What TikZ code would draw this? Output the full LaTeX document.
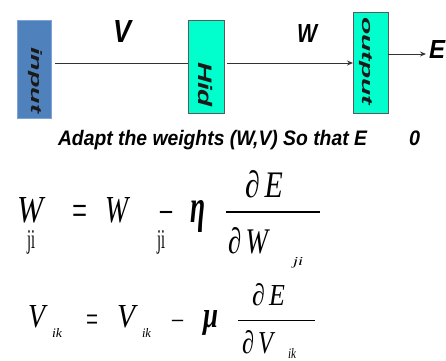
\documentclass[tikz,border=0pt]{standalone}
\usepackage{fontspec}
\usepackage{graphicx}
\usetikzlibrary{arrows.meta}
\setmainfont{Liberation Serif}
\newfontfamily\lsans{Liberation Sans}
\newcommand\gl[3]{\resizebox{#1}{#2}{#3}}
\newcommand\fsz[1]{\fontsize{#1}{#1}\selectfont}
\definecolor{inblue}{HTML}{4F81BD}
\definecolor{inedge}{HTML}{7FA3D6}
\definecolor{aqua}{HTML}{00FFCC}
\definecolor{boxedge}{HTML}{5A5A5A}
\definecolor{ink}{HTML}{1A1A1A}
\begin{document}
\begin{tikzpicture}[x=1pt,y=-1pt,
  txt/.style={inner sep=0pt,outer sep=0pt,anchor=base west,text=black},
  sansbi/.style={txt,font=\lsans\bfseries\itshape},
  eqit/.style={txt,font=\itshape},
  eqrm/.style={txt,font=\normalfont},
  layerbox/.style={inner sep=0pt,outer sep=0pt,line width=0.8pt},
  vlabel/.style={sansbi,rotate=-90,text=ink},
  conn/.style={draw=black!80,line width=1pt},
  tip/.style={-{Stealth[length=6pt,width=5pt]}},
  fracline/.style={line width=#1,black}
]
\useasboundingbox (0,0) rectangle (446,360);
\fill[white] (0,0) rectangle (446,360);

% boxes
\node[layerbox,draw=inedge,fill=inblue,minimum width=34pt,minimum height=98pt] (input) at (34,69) {};
\node[layerbox,draw=boxedge,fill=aqua,minimum width=36pt,minimum height=93pt] (hid) at (206,66.5) {};
\node[layerbox,draw=boxedge,fill=aqua,minimum width=35pt,minimum height=101pt] (output) at (370.5,62.5) {};

% box labels
\node[vlabel] (inputlbl) at (31,47) {\gl{66pt}{\height}{\fsz{15}input}};
\node[vlabel] (hidlbl) at (198,62) {\gl{45pt}{\height}{\fsz{19.5}Hid}};
\node[vlabel] (outputlbl) at (362,17) {\gl{88pt}{\height}{\fsz{15}output}};

% weight labels
\node[sansbi] (vlbl) at (113,42) {\gl{18pt}{22pt}{\fsz{30}V}};
\node[sansbi] (wlbl) at (297,42) {\gl{20pt}{18pt}{\fsz{25}W}};
\node[sansbi] (elbl) at (429,58) {\gl{16pt}{18pt}{\fsz{25}E}};

% connectors
\coordinate (ly) at (0,63);
\coordinate (ey) at (0,54);
\draw[conn,shorten <=4pt] (input.east |- ly) -- (hid.west |- ly);
\draw[conn,tip,shorten <=3pt] (hid.east |- ly) -- (output.west |- ly);
\draw[conn,tip,shorten >=3pt] (output.east |- ey) -- (elbl.west |- ey);

% sentence
\node[sansbi] (sent) at (58,145) {\gl{309pt}{\height}{\fsz{21}Adapt the weights (W,V) So that E}};
\node[sansbi] (zero) at (409,145) {\gl{11pt}{\height}{\fsz{21}0}};

% equation 1
\node[eqit] (w1) at (17,222) {\gl{26pt}{25pt}{W}\hspace{-16pt}\raisebox{-26pt}{\gl{8pt}{18pt}{\normalfont ji}}};
\node[eqrm] (eq1) at (72,225.5) {\gl{15pt}{\height}{\fsz{44}=}};
\node[eqit] (w2) at (105,222) {\gl{23pt}{25pt}{W}};
\node[eqrm] (ji2) at (157,248) {\gl{8pt}{18pt}{ji}};
\node[eqrm,font=\bfseries] (m1) at (160,219.5) {\gl{12pt}{\height}{\fsz{30}–}};
\node[eqit,font=\bfseries\itshape] (eta) at (190,222) {\gl{15pt}{22pt}{η}};
\node[eqit] (num1) at (245,197) {\gl{38pt}{27pt}{∂\,E}};
\draw[fracline=1.6pt] (226,212) -- (320,212);
\node[eqit] (den1) at (228,253) {\gl{40pt}{26pt}{∂\,W}};
\node[eqit] (ji3) at (293,265) {\gl{10pt}{8pt}{ji}};

% equation 2
\node[eqit] (v1) at (28,327) {\gl{17pt}{22pt}{V}};
\node[eqit] (ik1) at (52,337) {\gl{10pt}{9pt}{ik}};
\node[eqrm] (eq2) at (86,331) {\gl{12pt}{\height}{\fsz{36}=}};
\node[eqit] (v2) at (117,327) {\gl{18pt}{22pt}{V}};
\node[eqit] (ik2) at (142,337) {\gl{9pt}{9pt}{ik}};
\node[eqrm] (m2) at (172,327) {\gl{11pt}{\height}{\fsz{28}–}};
\node[eqit,font=\bfseries\itshape] (mu) at (203,327) {\gl{15pt}{17pt}{μ}};
\node[eqit] (num2) at (252,305) {\gl{33pt}{22pt}{∂\,E}};
\draw[fracline=1pt] (238,320) -- (315,320);
\node[eqit] (den2) at (242,353) {\gl{31pt}{23pt}{∂\,V}};
\node[eqit] (ik3) at (288,358) {\gl{8pt}{10pt}{ik}};
\end{tikzpicture}
\end{document}
